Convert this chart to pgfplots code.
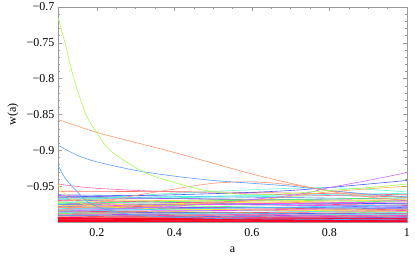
\documentclass[border=0pt]{standalone}
\usepackage{fontspec}
\setmainfont{Liberation Serif}
\usepackage{pgfplots}
\pgfplotsset{compat=1.18}
\definecolor{cA}{hsb}{0.25,0.7,1}
\definecolor{cB}{hsb}{0.05,0.6,1}
\definecolor{cC}{hsb}{0.6,0.65,1}
\definecolor{cD}{hsb}{0.58,0.7,1}
\definecolor{cE}{hsb}{0.15,0.8,1}
\definecolor{cF}{hsb}{0.93,0.6,1}
\definecolor{cG}{hsb}{0.01,0.6,1}
\definecolor{cH}{hsb}{0.04,0.55,1}
\definecolor{cI}{hsb}{0.45,0.6,1}
\definecolor{cJ}{hsb}{0.78,0.6,1}
\definecolor{cK}{hsb}{0.65,0.7,1}
\definecolor{cM}{hsb}{0.09,0.7,1}
\definecolor{h00}{hsb}{0.00,0.7,1}
\definecolor{h02}{hsb}{0.02,0.7,1}
\definecolor{h05}{hsb}{0.05,0.7,1}
\definecolor{h08}{hsb}{0.08,0.7,1}
\definecolor{h10}{hsb}{0.10,0.7,1}
\definecolor{h12}{hsb}{0.12,0.75,1}
\definecolor{h15}{hsb}{0.15,0.75,1}
\definecolor{h18}{hsb}{0.18,0.75,1}
\definecolor{h20}{hsb}{0.20,0.7,1}
\definecolor{h25}{hsb}{0.25,0.7,1}
\definecolor{h28}{hsb}{0.28,0.7,1}
\definecolor{h30}{hsb}{0.30,0.7,1}
\definecolor{h33}{hsb}{0.33,0.7,1}
\definecolor{h35}{hsb}{0.35,0.7,1}
\definecolor{h40}{hsb}{0.40,0.7,1}
\definecolor{h42}{hsb}{0.42,0.7,1}
\definecolor{h45}{hsb}{0.45,0.7,1}
\definecolor{h48}{hsb}{0.48,0.7,1}
\definecolor{h50}{hsb}{0.50,0.7,1}
\definecolor{h52}{hsb}{0.52,0.7,1}
\definecolor{h55}{hsb}{0.55,0.7,1}
\definecolor{h60}{hsb}{0.60,0.7,1}
\definecolor{h62}{hsb}{0.62,0.7,1}
\definecolor{h63}{hsb}{0.63,0.7,1}
\definecolor{h65}{hsb}{0.65,0.7,1}
\definecolor{h68}{hsb}{0.68,0.7,1}
\definecolor{h70}{hsb}{0.70,0.7,1}
\definecolor{h72}{hsb}{0.72,0.7,1}
\definecolor{h75}{hsb}{0.75,0.7,1}
\definecolor{h78}{hsb}{0.78,0.7,1}
\definecolor{h80}{hsb}{0.80,0.7,1}
\definecolor{h82}{hsb}{0.82,0.7,1}
\definecolor{h85}{hsb}{0.85,0.7,1}
\definecolor{h88}{hsb}{0.88,0.7,1}
\definecolor{h90}{hsb}{0.90,0.7,1}
\definecolor{h93}{hsb}{0.93,0.7,1}
\definecolor{h95}{hsb}{0.95,0.7,1}
\definecolor{h97}{hsb}{0.97,0.7,1}
\definecolor{h98}{hsb}{0.98,0.8,1}
\definecolor{rd1}{hsb}{0.97,1,1}
\definecolor{rd2}{hsb}{0.99,1,1}
\definecolor{rd3}{hsb}{0.95,0.9,1}
\begin{document}
\begin{tikzpicture}
\useasboundingbox (-58pt,-35pt) rectangle (357pt,222pt);
\begin{axis}[
  at={(0,0)}, anchor=south west,
  scale only axis, width=349pt, height=215pt,
  xmin=0.1, xmax=1, ymin=-1, ymax=-0.7,
  xtick={0.2,0.4,0.6,0.8,1},
  xticklabels={0.2,0.4,0.6,0.8,1},
  ytick={-0.95,-0.9,-0.85,-0.8,-0.75,-0.7},
  yticklabels={−0.95,−0.9,−0.85,−0.8,−0.75,−0.7},
  minor x tick num=3, minor y tick num=4,
  tick align=inside,
  major tick length=4pt, minor tick length=2pt,
  axis line style={gray!80},
  tick style={gray!80, line width=0.4pt},
  tick label style={font=\fontsize{12}{14}\selectfont},
  xticklabel style={yshift=-3pt},
  label style={font=\fontsize{12}{14}\selectfont},
  xlabel={a}, ylabel={w(a)},
  xlabel style={at={(axis description cs:0.5,0)}, anchor=center, yshift=-28pt},
  ylabel style={at={(axis description cs:-0.129,0.5)}, anchor=center},
  every axis plot/.append style={line width=0.6pt, no markers},
  clip=true,
]
% dense band
\addplot[h62] coordinates {(0.1,-0.962) (1,-0.968)};
\addplot[h78] coordinates {(0.1,-0.963) (1,-0.975)};
\addplot[h33] coordinates {(0.1,-0.965) (1,-0.972)};
\addplot[h50] coordinates {(0.1,-0.967) (1,-0.960)};
\addplot[h08] coordinates {(0.1,-0.968) (1,-0.975)};
\addplot[h70] coordinates {(0.1,-0.969) (1,-0.980)};
\addplot[h95] coordinates {(0.1,-0.970) (1,-0.977)};
\addplot[h15] coordinates {(0.1,-0.971) (1,-0.969)};
\addplot[h55] coordinates {(0.1,-0.972) (1,-0.978)};
\addplot[h25] coordinates {(0.1,-0.973) (1,-0.985)};
\addplot[h85] coordinates {(0.1,-0.974) (1,-0.978)};
\addplot[h40] coordinates {(0.1,-0.975) (1,-0.982)};
\addplot[h65] coordinates {(0.1,-0.976) (1,-0.974)};
\addplot[h02] coordinates {(0.1,-0.977) (1,-0.983)};
\addplot[h30] coordinates {(0.1,-0.978) (1,-0.988)};
\addplot[h72] coordinates {(0.1,-0.979) (1,-0.981)};
\addplot[h12] coordinates {(0.1,-0.980) (1,-0.986)};
\addplot[h90] coordinates {(0.1,-0.980) (1,-0.984)};
\addplot[h48] coordinates {(0.1,-0.981) (1,-0.987)};
\addplot[h60] coordinates {(0.1,-0.982) (1,-0.979)};
\addplot[h20] coordinates {(0.1,-0.983) (1,-0.990)};
\addplot[h80] coordinates {(0.1,-0.983) (1,-0.985)};
\addplot[h35] coordinates {(0.1,-0.984) (1,-0.991)};
\addplot[h97] coordinates {(0.1,-0.985) (1,-0.988)};
\addplot[h68] coordinates {(0.1,-0.986) (1,-0.989)};
\addplot[h05] coordinates {(0.1,-0.986) (1,-0.992)};
\addplot[h52] coordinates {(0.1,-0.987) (1,-0.990)};
\addplot[h88] coordinates {(0.1,-0.988) (1,-0.991)};
\addplot[h28] coordinates {(0.1,-0.988) (1,-0.993)};
\addplot[h75] coordinates {(0.1,-0.989) (1,-0.992)};
\addplot[h10] coordinates {(0.1,-0.990) (1,-0.994)};
\addplot[h93] coordinates {(0.1,-0.990) (1,-0.993)};
\addplot[h42] coordinates {(0.1,-0.991) (1,-0.995)};
\addplot[h63] coordinates {(0.1,-0.991) (1,-0.994)};
\addplot[h98] coordinates {(0.1,-0.992) (1,-0.995)};
\addplot[h82] coordinates {(0.1,-0.993) (1,-0.995)};
\addplot[h18] coordinates {(0.1,-0.993) (1,-0.996)};
\addplot[h45] coordinates {(0.1,-0.968) (1,-0.962)};
\addplot[h75] coordinates {(0.1,-0.966) (1,-0.970)};
\addplot[h35] coordinates {(0.1,-0.974) (1,-0.966)};
\addplot[h85] coordinates {(0.1,-0.978) (1,-0.972)};
\addplot[h55] coordinates {(0.1,-0.985) (1,-0.976)};
\addplot[h15] coordinates {(0.1,-0.977) (1,-0.969)};
% red bottom
\addplot[rd3, line width=1pt] coordinates {(0.1,-0.994) (1,-0.995)};
\addplot[rd1, line width=1pt] coordinates {(0.1,-0.995) (1,-0.996)};
\addplot[rd2, line width=1pt] coordinates {(0.1,-0.996) (1,-0.997)};
\addplot[rd1, line width=1pt] coordinates {(0.1,-0.997) (1,-0.998)};
\addplot[rd2, line width=1pt] coordinates {(0.1,-0.998) (1,-0.999)};
\addplot[rd1, line width=1pt] coordinates {(0.1,-0.999) (1,-0.9995)};
% prominent curves
\addplot[cE, smooth] coordinates {(0.1,-0.948) (0.12,-0.962) (0.15,-0.972) (0.2,-0.978) (0.4,-0.982) (1,-0.985)};
\addplot[cF, smooth] coordinates {(0.1,-0.947) (0.2,-0.953) (0.4,-0.958) (0.7,-0.962) (1,-0.965)};
\addplot[cG] coordinates {(0.1,-0.957) (0.5,-0.958) (1,-0.962)};
\addplot[cI, smooth] coordinates {(0.1,-0.975) (0.25,-0.965) (0.4,-0.960) (0.6,-0.955) (0.8,-0.952) (1,-0.958)};
\addplot[cK, smooth] coordinates {(0.1,-0.965) (0.4,-0.962) (0.7,-0.956) (1,-0.942)};
\addplot[cJ, smooth] coordinates {(0.1,-0.985) (0.4,-0.978) (0.7,-0.963) (0.8,-0.952) (0.9,-0.942) (1,-0.931)};
\addplot[cM, smooth] coordinates {(0.1,-0.980) (0.4,-0.976) (0.6,-0.970) (0.8,-0.958) (1,-0.950)};
\addplot[cH, smooth] coordinates {(0.1,-0.985) (0.21,-0.972) (0.3,-0.963) (0.4,-0.954) (0.5,-0.946) (0.6,-0.944) (0.7,-0.948) (0.8,-0.956) (0.9,-0.962) (1,-0.966)};
\addplot[cD, smooth] coordinates {(0.1,-0.921) (0.12,-0.940) (0.15,-0.958) (0.177,-0.972) (0.22,-0.982) (0.3,-0.990) (0.5,-0.995) (1,-0.997)};
\addplot[cC, smooth] coordinates {(0.1,-0.893) (0.15,-0.907) (0.2,-0.916) (0.3,-0.928) (0.4,-0.936) (0.5,-0.942) (0.6,-0.946) (0.7,-0.950) (0.8,-0.956) (0.9,-0.961) (1,-0.965)};
\addplot[cB, smooth] coordinates {(0.1,-0.857) (0.2,-0.875) (0.3,-0.889) (0.4,-0.903) (0.5,-0.918) (0.6,-0.933) (0.7,-0.946) (0.8,-0.957) (0.9,-0.965) (1,-0.970)};
\addplot[cA, smooth] coordinates {(0.1,-0.715) (0.118,-0.75) (0.141,-0.8) (0.172,-0.85) (0.2,-0.875) (0.234,-0.9) (0.32,-0.93) (0.4,-0.945) (0.49,-0.957) (0.6,-0.962) (0.7,-0.960) (0.8,-0.956) (0.9,-0.952) (1,-0.947)};
\end{axis}
\end{tikzpicture}
\end{document}
